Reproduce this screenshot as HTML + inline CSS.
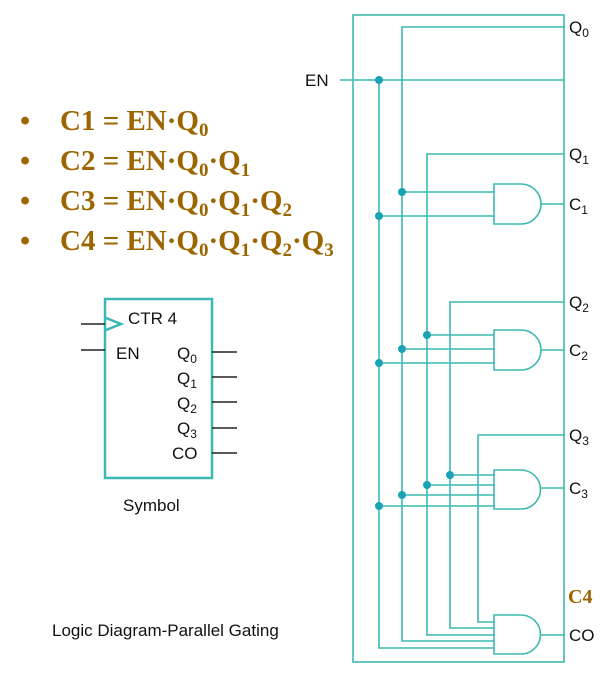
<!DOCTYPE html>
<html><head><meta charset="utf-8"><style>
html,body{margin:0;padding:0;background:#fff}
svg{display:block}
.s{font-family:"Liberation Sans",sans-serif;font-size:17px;fill:#111}
.b{font-family:"Liberation Serif",serif;font-weight:bold;font-size:29px;fill:#9c6500}
.sub{font-size:12px}
.bs{font-size:19px}
</style></head><body>
<svg width="605" height="673" viewBox="0 0 605 673" xmlns="http://www.w3.org/2000/svg">
<g class="b">
<text x="20" y="130">•</text><text x="60" y="130">C1 = EN·Q<tspan class="bs" dy="6">0</tspan></text>
<text x="20" y="170">•</text><text x="60" y="170">C2 = EN·Q<tspan class="bs" dy="6">0</tspan><tspan dy="-6">·Q</tspan><tspan class="bs" dy="6">1</tspan></text>
<text x="20" y="210">•</text><text x="60" y="210">C3 = EN·Q<tspan class="bs" dy="6">0</tspan><tspan dy="-6">·Q</tspan><tspan class="bs" dy="6">1</tspan><tspan dy="-6">·Q</tspan><tspan class="bs" dy="6">2</tspan></text>
<text x="20" y="250">•</text><text x="60" y="250">C4 = EN·Q<tspan class="bs" dy="6">0</tspan><tspan dy="-6">·Q</tspan><tspan class="bs" dy="6">1</tspan><tspan dy="-6">·Q</tspan><tspan class="bs" dy="6">2</tspan><tspan dy="-6">·Q</tspan><tspan class="bs" dy="6">3</tspan></text>
</g>
<!-- symbol -->
<rect x="105" y="299" width="107" height="179" fill="none" stroke="#3cb8b2" stroke-width="2.5"/>
<polyline points="106,318 121,324 106,330" fill="none" stroke="#3cb8b2" stroke-width="2.5"/>
<g stroke="#222" stroke-width="1.5">
<line x1="81" y1="324" x2="105" y2="324"/><line x1="81" y1="350" x2="105" y2="350"/>
<line x1="212" y1="352" x2="237" y2="352"/><line x1="212" y1="377" x2="237" y2="377"/>
<line x1="212" y1="402" x2="237" y2="402"/><line x1="212" y1="428" x2="237" y2="428"/>
<line x1="212" y1="453" x2="237" y2="453"/>
</g>
<g class="s">
<text x="128" y="324">CTR 4</text><text x="116" y="359">EN</text>
<text x="177" y="359">Q<tspan class="sub" dy="4">0</tspan></text>
<text x="177" y="384">Q<tspan class="sub" dy="4">1</tspan></text>
<text x="177" y="409">Q<tspan class="sub" dy="4">2</tspan></text>
<text x="177" y="434">Q<tspan class="sub" dy="4">3</tspan></text>
<text x="172" y="459">CO</text>
<text x="123" y="511">Symbol</text>
<text x="52" y="636">Logic Diagram-Parallel Gating</text>
<text x="305" y="86">EN</text>
<text x="569" y="33">Q<tspan class="sub" dy="4">0</tspan></text>
<text x="569" y="160">Q<tspan class="sub" dy="4">1</tspan></text>
<text x="569" y="210">C<tspan class="sub" dy="4">1</tspan></text>
<text x="569" y="308">Q<tspan class="sub" dy="4">2</tspan></text>
<text x="569" y="356">C<tspan class="sub" dy="4">2</tspan></text>
<text x="569" y="441">Q<tspan class="sub" dy="4">3</tspan></text>
<text x="569" y="494">C<tspan class="sub" dy="4">3</tspan></text>
<text x="569" y="641">CO</text>
</g>
<text x="568" y="603" class="b" style="font-size:20px">C4</text>
<!-- logic -->
<g fill="none" stroke="#3cb8b2" stroke-width="1.6">
<rect x="353" y="15" width="211" height="647"/>
<line x1="340" y1="80" x2="564" y2="80"/>
<polyline points="564,27 402,27 402,641 494,641"/>
<polyline points="379,80 379,648 494,648"/>
<polyline points="564,154 427,154 427,635 494,635"/>
<polyline points="564,302 450,302 450,628 494,628"/>
<polyline points="564,435 478,435 478,622 494,622"/>
<line x1="402" y1="192" x2="494" y2="192"/><line x1="379" y1="216" x2="494" y2="216"/>
<line x1="427" y1="335" x2="494" y2="335"/><line x1="402" y1="349" x2="494" y2="349"/><line x1="379" y1="363" x2="494" y2="363"/>
<line x1="450" y1="475" x2="494" y2="475"/><line x1="427" y1="485" x2="494" y2="485"/><line x1="402" y1="495" x2="494" y2="495"/><line x1="379" y1="506" x2="494" y2="506"/>
<path d="M494,184 H521 A20,20 0 0 1 521,224 H494 Z"/><line x1="541" y1="204" x2="564" y2="204"/>
<path d="M494,330 H521 A20,20 0 0 1 521,370 H494 Z"/><line x1="541" y1="350" x2="564" y2="350"/>
<path d="M494,470 H521 A19.5,19.5 0 0 1 521,509 H494 Z"/><line x1="541" y1="488" x2="564" y2="488"/>
<path d="M494,615 H521 A19.5,19.5 0 0 1 521,654 H494 Z"/><line x1="541" y1="635" x2="564" y2="635"/>
</g>
<g fill="#1aa3b5">
<circle cx="379" cy="80" r="4"/>
<circle cx="402" cy="192" r="4"/><circle cx="379" cy="216" r="4"/>
<circle cx="427" cy="335" r="4"/><circle cx="402" cy="349" r="4"/><circle cx="379" cy="363" r="4"/>
<circle cx="450" cy="475" r="4"/><circle cx="427" cy="485" r="4"/><circle cx="402" cy="495" r="4"/><circle cx="379" cy="506" r="4"/>
</g>
</svg>
</body></html>
